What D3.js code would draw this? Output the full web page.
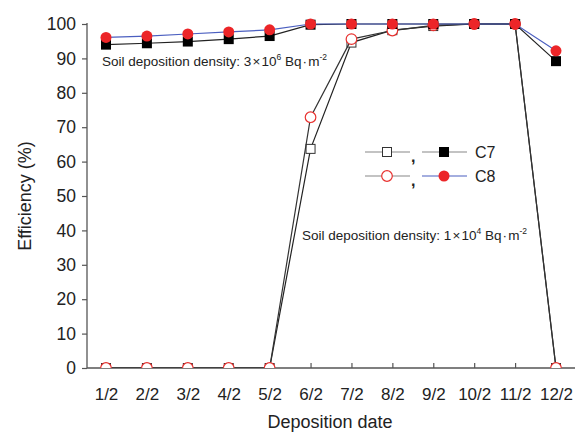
<!DOCTYPE html>
<html><head><meta charset="utf-8">
<script src="https://cdn.jsdelivr.net/npm/d3@7"></script>
<style>body{margin:0;background:#fff;}svg{display:block;font-family:"Liberation Sans",Arial,sans-serif;}</style>
</head><body>
<svg id="c" width="579" height="434"></svg>
<script>
const categories = ["1/2","2/2","3/2","4/2","5/2","6/2","7/2","8/2","9/2","10/2","11/2","12/2"];
const c7High = [94.0,94.4,94.9,95.6,96.5,99.8,100,100,100,100,100,89.2];
const c8High = [96.1,96.5,97.1,97.7,98.3,100,100,100,100,100,100,92.2];
const c7Low  = [0,0,0,0,0,63.7,94.6,98.2,99.4,100,100,0];
const c8Low  = [0,0,0,0,0,72.9,95.6,98.1,99.6,100,100,0];
const yTicks = [0,10,20,30,40,50,60,70,80,90,100];

const svg = d3.select("#c");
const L = 87, R = 575, T = 24, B = 368;
const x = d3.scalePoint().domain(categories).range([106, 556]);
const y = d3.scaleLinear().domain([0,100]).range([B, T]);

svg.append("defs").append("clipPath").attr("id","clip")
  .append("rect").attr("x",L).attr("y",0).attr("width",R-L).attr("height",B);

// axes
const ya = svg.append("g").attr("transform",`translate(${L},0)`)
  .call(d3.axisLeft(y).tickValues(yTicks).tickSize(5).tickPadding(6));
ya.select(".domain").attr("d",`M0,${T-1}V${B}`);
const xa = svg.append("g").attr("transform",`translate(0,${B})`)
  .call(d3.axisBottom(x).tickSize(-5).tickPadding(20));
xa.select(".domain").attr("d",`M${L},0H${R}`);
[ya, xa].forEach(g=>{
  g.selectAll(".domain").attr("stroke","#555").attr("stroke-width",1.3);
  g.selectAll(".tick line").attr("stroke","#555").attr("stroke-width",1.2);
  g.selectAll("text").attr("fill","#222").attr("font-size",17.5);
});
xa.selectAll("text").attr("font-size",17);

svg.append("text").attr("x",330).attr("y",428).attr("text-anchor","middle")
  .attr("font-size",18).attr("fill","#222").text("Deposition date");
svg.append("text").attr("transform","translate(31,196) rotate(-90)").attr("text-anchor","middle")
  .attr("font-size",18).attr("fill","#222").text("Efficiency (%)");

const plot = svg.append("g").attr("clip-path","url(#clip)");
const line = d3.line().x((d,i)=>x(categories[i])).y(d=>y(d));

function series(data, lineColor, marker){
  plot.append("path").datum(data).attr("d",line).attr("fill","none")
    .attr("stroke",lineColor).attr("stroke-width",1.2);
  const g = plot.append("g");
  data.forEach((d,i)=>{
    drawMarker(g, marker, x(categories[i]), y(d));
  });
}
function drawMarker(g, m, cx, cy){
  if(m==="sqOpen") g.append("rect").attr("x",cx-4.5).attr("y",cy-4.5).attr("width",9).attr("height",9).attr("fill","#fff").attr("stroke","#333").attr("stroke-width",1);
  if(m==="sqFill") g.append("rect").attr("x",cx-5).attr("y",cy-5).attr("width",10).attr("height",10).attr("fill","#000");
  if(m==="cirOpen") g.append("circle").attr("cx",cx).attr("cy",cy).attr("r",5.3).attr("fill","#fff").attr("stroke","#e8312f").attr("stroke-width",1.2);
  if(m==="cirFill") g.append("circle").attr("cx",cx).attr("cy",cy).attr("r",5.5).attr("fill","#ec2528");
}

series(c7Low, "#222", "sqOpen");
series(c8Low, "#333", "cirOpen");
series(c7High, "#222", "sqFill");
series(c8High, "#4b5fc0", "cirFill");

// annotations
function ann(xp, yp, mant, exp){
  const t = svg.append("text").attr("x",xp).attr("y",yp).attr("font-size",13.5).attr("fill","#222");
  t.append("tspan").text("Soil deposition density: " + mant + "\u200a\u00d7\u200a10");
  t.append("tspan").attr("dy",-6).attr("font-size",8.5).text(exp);
  t.append("tspan").attr("dy",6).text(" Bq\u200a\u00b7\u200am");
  t.append("tspan").attr("dy",-6).attr("font-size",8.5).text("-2");
}
ann(102, 66, "3", "6");
ann(302, 240, "1", "4");

// legend
function legRow(yy, m1, m2, c2, label){
  const g = svg.append("g");
  g.append("line").attr("x1",365).attr("x2",410).attr("y1",yy).attr("y2",yy).attr("stroke","#888").attr("stroke-width",1.2);
  drawMarker(g, m1, 387, yy);
  g.append("text").attr("x",411).attr("y",yy+10).attr("font-size",16).attr("font-weight","bold").attr("fill","#222").text(",");
  g.append("line").attr("x1",422).attr("x2",467).attr("y1",yy).attr("y2",yy).attr("stroke",c2).attr("stroke-width",1.2);
  drawMarker(g, m2, 444, yy);
  g.append("text").attr("x",475).attr("y",yy+6).attr("font-size",16).attr("fill","#222").text(label);
}
legRow(152, "sqOpen", "sqFill", "#888", "C7");
legRow(176, "cirOpen", "cirFill", "#4b5fc0", "C8");
</script>
</body></html>
